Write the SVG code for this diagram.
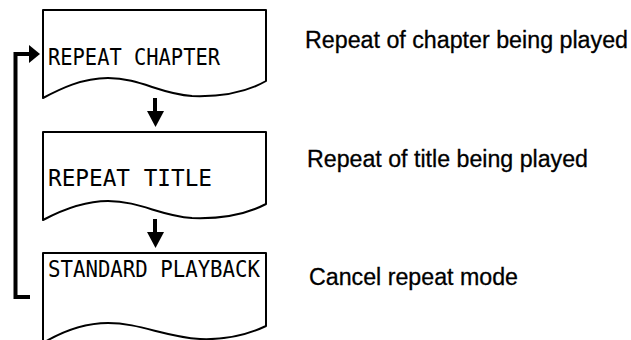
<svg xmlns="http://www.w3.org/2000/svg" width="631" height="340" viewBox="0 0 631 340">
<style>
.box{fill:#fff;stroke:#000;stroke-width:2;stroke-linejoin:round}
.lbl{font-family:"DejaVu Sans Mono","Liberation Mono",monospace;font-size:23.5px;fill:#000}
.desc{font-family:"Liberation Sans",Arial,sans-serif;font-size:23px;fill:#000;stroke:#000;stroke-width:0.3}
.conn{fill:none;stroke:#000;stroke-width:4}
.head{fill:#000}
</style>
<rect width="631" height="340" fill="#fff"/>
<g id="node-repeat-chapter">
<path class="box" d="M43,10 H266 V81 C245,93 220,97 192,96 C160,94 140,78 108,78 C82,78 60,89 43,98 Z"/>
<text class="lbl" x="48" y="65" textLength="172" lengthAdjust="spacingAndGlyphs">REPEAT CHAPTER</text>
</g>
<g id="node-repeat-title">
<path class="box" d="M43,132 H266 V204 C245,215 220,219 192,218 C160,216 140,201 108,201 C82,201 60,211 43,220 Z"/>
<text class="lbl" x="48" y="186" textLength="164" lengthAdjust="spacingAndGlyphs">REPEAT TITLE</text>
</g>
<g id="node-standard-playback">
<path class="box" d="M43,253 H266 V326 C245,336 225,340 200,339 C165,337 140,323 108,323 C80,323 58,334 43,343 Z"/>
<text class="lbl" x="48" y="277" textLength="212" lengthAdjust="spacingAndGlyphs">STANDARD PLAYBACK</text>
</g>
<g id="desc-chapter"><text class="desc" x="305" y="48" textLength="323" lengthAdjust="spacingAndGlyphs">Repeat of chapter being played</text></g>
<g id="desc-title"><text class="desc" x="307" y="167" textLength="281" lengthAdjust="spacingAndGlyphs">Repeat of title being played</text></g>
<g id="desc-cancel"><text class="desc" x="309" y="285" textLength="209" lengthAdjust="spacingAndGlyphs">Cancel repeat mode</text></g>
<g id="connectors">
<line class="conn" x1="155" y1="98" x2="155" y2="113"/>
<polygon class="head" points="147,111 164,111 155.5,127"/>
<line class="conn" x1="155" y1="219" x2="155" y2="234"/>
<polygon class="head" points="147,232 164,232 155.5,248"/>
<polyline class="conn" points="30,297 15.5,297 15.5,54 31,54"/>
<polygon class="head" points="29,45 40,54 29,63"/>
</g>
</svg>
